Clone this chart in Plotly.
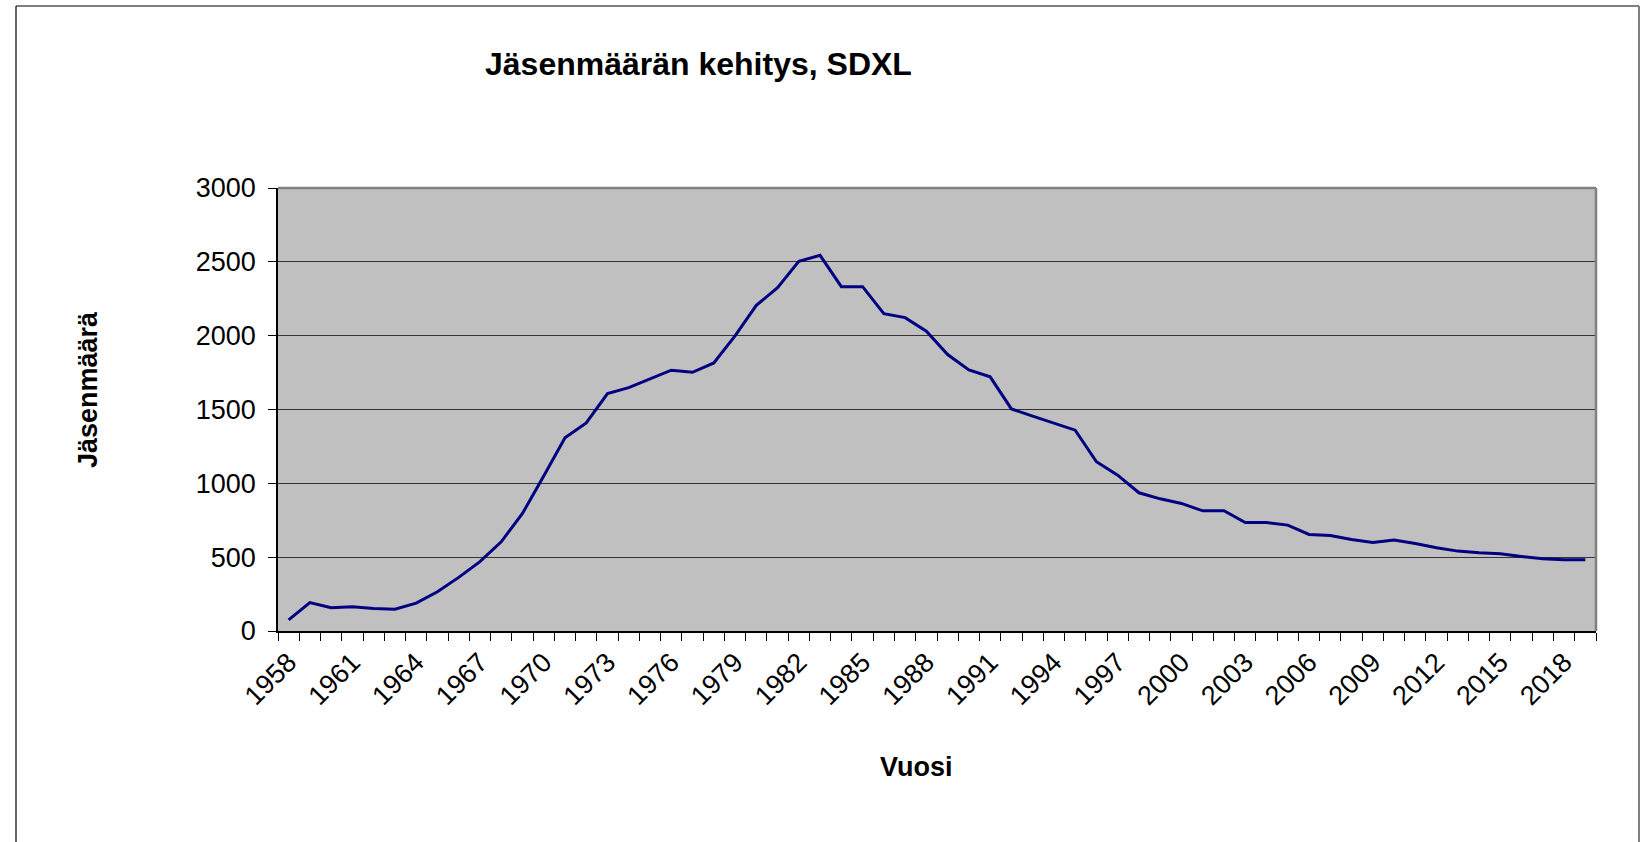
import plotly.graph_objects as go

# ---- data ----
years = [1958, 1959, 1960, 1961, 1962, 1963, 1964, 1965, 1966, 1967,
         1968, 1969, 1970, 1971, 1972, 1973, 1974, 1975, 1976, 1977,
         1978, 1979, 1980, 1981, 1982, 1983, 1984, 1985, 1986, 1987,
         1988, 1989, 1990, 1991, 1992, 1993, 1994, 1995, 1996, 1997,
         1998, 1999, 2000, 2001, 2002, 2003, 2004, 2005, 2006, 2007,
         2008, 2009, 2010, 2011, 2012, 2013, 2014, 2015, 2016, 2017,
         2018, 2019]
members = [75, 192, 158, 165, 153, 148, 189, 266, 363, 470,
           604, 796, 1050, 1308, 1409, 1608, 1648, 1709, 1766, 1752,
           1815, 1998, 2205, 2325, 2503, 2544, 2332, 2332, 2149, 2122,
           2030, 1872, 1768, 1721, 1504, 1455, 1405, 1360, 1146, 1055,
           936, 895, 864, 814, 814, 735, 735, 717, 654, 647,
           620, 600, 616, 593, 564, 541, 530, 523, 505, 489,
           482, 482]
label_years = [1958, 1961, 1964, 1967, 1970, 1973, 1976, 1979, 1982, 1985,
               1988, 1991, 1994, 1997, 2000, 2003, 2006, 2009, 2012, 2015, 2018]
y_ticks = [0, 500, 1000, 1500, 2000, 2500, 3000]

title_text = "Jäsenmäärän kehitys, SDXL"
x_title = "Vuosi"
y_title = "Jäsenmäärä"

# ---- layout geometry (pixels) ----
W, H = 1647, 842
L, R, T, B = 278, 51, 188, 211
PW = W - L - R
PH = H - T - B


def px_x(x):
    return (x - L) / PW


def px_y(y):
    return (H - B - y) / PH


FONT = "Liberation Sans, Arial, sans-serif"

fig = go.Figure()
fig.add_trace(go.Scatter(
    x=years, y=members, mode="lines",
    line=dict(color="#000080", width=3),
    showlegend=False, hoverinfo="x+y",
))

fig.update_layout(
    width=W, height=H,
    margin=dict(l=L, r=R, t=T, b=B, pad=0),
    paper_bgcolor="white",
    plot_bgcolor="#C0C0C0",
    font=dict(family=FONT, color="black", size=27),
    showlegend=False,
)

fig.update_xaxes(
    range=[years[0] - 0.5, years[-1] + 0.5],
    tickmode="array",
    tickvals=label_years,
    ticktext=[str(v) for v in label_years],
    tickangle=-45,
    ticks="",
    ticklen=0,
    showgrid=False,
    zeroline=False,
    showline=True, linecolor="black", linewidth=1.5,
    tickfont=dict(family=FONT, size=27, color="black"),
    ticklabelstandoff=3,
    minor=dict(ticks="outside", ticklen=8, tickcolor="black", tickwidth=1,
               tick0=years[0] - 0.5, dtick=1, showgrid=False),
)

fig.update_yaxes(
    range=[0, 3000],
    tickmode="array",
    tickvals=y_ticks,
    ticktext=[str(v) for v in y_ticks],
    ticks="outside", ticklen=8, tickcolor="black", tickwidth=1,
    showgrid=True, gridcolor="#333333", gridwidth=1,
    zeroline=False,
    showline=True, linecolor="black", linewidth=1.5,
    tickfont=dict(family=FONT, size=27, color="black"),
    ticklabelstandoff=7,
)

# plot-area border (top & right in gray)
fig.add_shape(type="line", xref="paper", yref="paper", x0=0, x1=1, y0=1, y1=1,
              line=dict(color="#808080", width=2.5), layer="above")
fig.add_shape(type="line", xref="paper", yref="paper", x0=1, x1=1, y0=0, y1=1,
              line=dict(color="#808080", width=2.5), layer="above")

# outer chart border
fig.add_shape(type="line", xref="paper", yref="paper",
              x0=px_x(16), x1=px_x(16), y0=px_y(6), y1=px_y(H + 20),
              line=dict(color="black", width=1.2))
fig.add_shape(type="line", xref="paper", yref="paper",
              x0=px_x(16), x1=px_x(1639), y0=px_y(6), y1=px_y(6),
              line=dict(color="black", width=1.2))
fig.add_shape(type="line", xref="paper", yref="paper",
              x0=px_x(1639), x1=px_x(1639), y0=px_y(6), y1=px_y(H + 20),
              line=dict(color="#808080", width=2))

# titles
fig.add_annotation(text=f"<b>{title_text}</b>", xref="paper", yref="paper",
                   x=px_x(698), y=px_y(64), xanchor="center", yanchor="middle",
                   showarrow=False, font=dict(family=FONT, size=32, color="black"))
fig.add_annotation(text=f"<b>{y_title}</b>", xref="paper", yref="paper",
                   x=px_x(88), y=px_y(390), xanchor="center", yanchor="middle",
                   textangle=-90, showarrow=False,
                   font=dict(family=FONT, size=27, color="black"))
fig.add_annotation(text=f"<b>{x_title}</b>", xref="paper", yref="paper",
                   x=px_x(916), y=px_y(767), xanchor="center", yanchor="middle",
                   showarrow=False, font=dict(family=FONT, size=27, color="black"))

fig.write_html(
    "out.html",
    config={"displayModeBar": False},
    post_script="document.body.style.margin='0';document.body.style.overflow='hidden';",
)
